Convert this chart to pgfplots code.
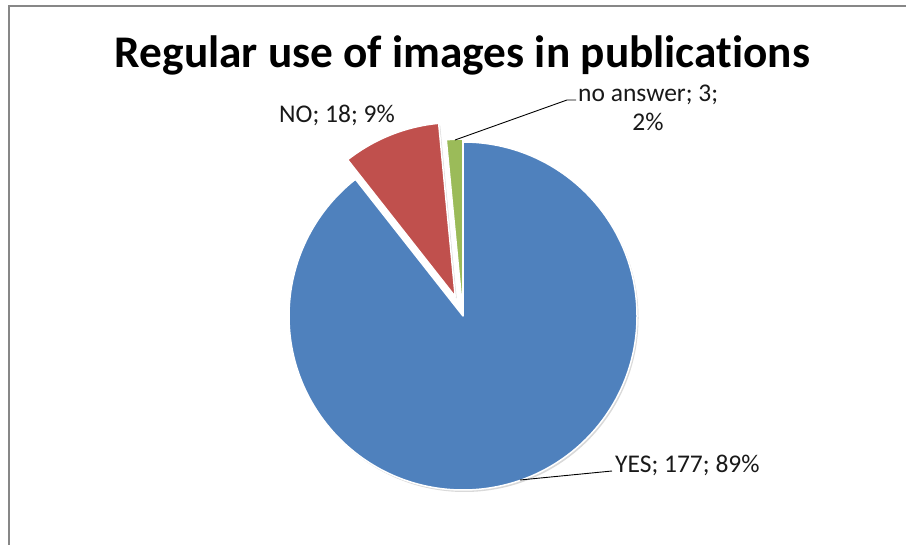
\documentclass[border=0pt]{standalone}
\usepackage{pgfplots}
\pgfplotsset{compat=1.18}
\usepackage{fontspec}
\setmainfont[Ligatures={NoCommon}]{Carlito}
\definecolor{cyes}{HTML}{4F81BD}
\definecolor{cno}{HTML}{C0504D}
\definecolor{cna}{HTML}{9BBB59}
\definecolor{frame}{HTML}{878787}
\begin{document}
\begin{tikzpicture}
% data
\def\vYes{177}\def\vNo{18}\def\vNa{3}
\pgfmathsetmacro\tot{\vYes+\vNo+\vNa}
\pgfmathsetmacro\aYes{90-360*(\vYes/\tot)}
\pgfmathsetmacro\aNo{\aYes-360*(\vNo/\tot)}
\pgfmathsetmacro\aNa{\aNo-360*(\vNa/\tot)}
\pgfmathsetmacro\mNo{(\aYes+\aNo)/2}
\pgfmathsetmacro\mNa{(\aNo+\aNa)/2}
\def\cx{463}\def\cy{229}\def\R{174}
\pgfmathsetmacro\cxNo{\cx+21*cos(\mNo)}
\pgfmathsetmacro\cyNo{\cy+21*sin(\mNo)}
\pgfmathsetmacro\cxNa{\cx+3*cos(\mNa)}
\pgfmathsetmacro\cyNa{\cy+3*sin(\mNa)}
\begin{axis}[scale only axis, width=906bp, height=545bp,
  xmin=0, xmax=906, ymin=0, ymax=545, hide axis, clip=false]
% frame
\draw[frame, line width=2bp] (axis cs:9,0) -- (axis cs:9,539) -- (axis cs:906,539);
% shadows
\fill[black!25, opacity=0.6] (axis cs:\cx+1.5,\cy-2) -- ++(90:\R bp) arc[start angle=90, end angle=\aYes, radius=\R bp] -- cycle;
\fill[black!25, opacity=0.6] (axis cs:\cxNo+1.5,\cyNo-2) -- ++(\aYes:\R bp) arc[start angle=\aYes, end angle=\aNo, radius=\R bp] -- cycle;
\fill[black!25, opacity=0.6] (axis cs:\cxNa+1.5,\cyNa-2) -- ++(\aNo:\R bp) arc[start angle=\aNo, end angle=\aNa, radius=\R bp] -- cycle;
% slices
\filldraw[fill=cyes, draw=white, line width=1.5bp, line join=round] (axis cs:\cx,\cy) -- ++(90:\R bp) arc[start angle=90, end angle=\aYes, radius=\R bp] -- cycle;
\filldraw[fill=cno, draw=white, line width=1.5bp, line join=round] (axis cs:\cxNo,\cyNo) -- ++(\aYes:\R bp) arc[start angle=\aYes, end angle=\aNo, radius=\R bp] -- cycle;
\filldraw[fill=cna, draw=white, line width=1.5bp, line join=round] (axis cs:\cxNa,\cyNa) -- ++(\aNo:\R bp) arc[start angle=\aNo, end angle=\aNa, radius=\R bp] -- cycle;
% leader lines
\draw[black, line width=0.9bp] (axis cs:455,405) -- (axis cs:567,445) -- (axis cs:576,445);
\draw[black, line width=0.9bp] (axis cs:520,65) -- (axis cs:612,74);
% labels
\node[anchor=base, inner sep=0pt, font=\fontsize{45.3bp}{50bp}\selectfont\bfseries] at (axis cs:462.5,477) {Regular use of images in publications};
\node[anchor=base, inner sep=0pt, font=\fontsize{25.5bp}{29bp}\selectfont, text=black!90] at (axis cs:337,422) {NO; 18; 9\%};
\node[anchor=base west, inner sep=0pt, font=\fontsize{25.5bp}{29bp}\selectfont, text=black!90] at (axis cs:578,443) {no answer; 3;};
\node[anchor=base, inner sep=0pt, font=\fontsize{25.5bp}{29bp}\selectfont, text=black!90] at (axis cs:648,414) {2\%};
\node[anchor=base west, inner sep=0pt, font=\fontsize{25.5bp}{29bp}\selectfont, text=black!90] at (axis cs:615,72) {YES; 177; 89\%};
\end{axis}
\pgfresetboundingbox
\path (0,0) rectangle (906bp,545bp);
\end{tikzpicture}
\end{document}
